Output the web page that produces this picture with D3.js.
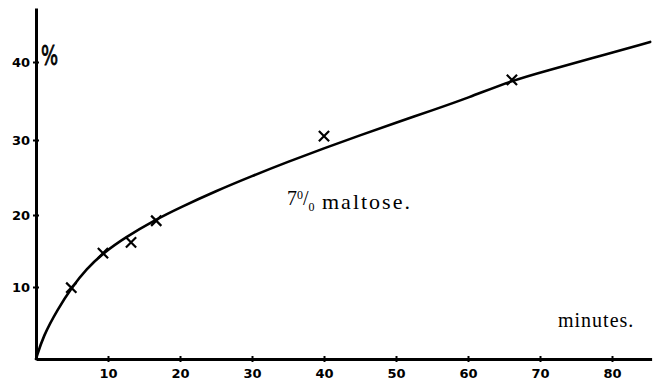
<!DOCTYPE html>
<html>
<head>
<meta charset="utf-8">
<script src="https://cdn.jsdelivr.net/npm/d3@7"></script>
<style>
  html, body { margin: 0; padding: 0; background: #fff; }
  svg { display: block; }
</style>
</head>
<body>
<svg id="chart" width="653" height="388"></svg>
<script>
// ---- data ----
const xTicks = [10, 20, 30, 40, 50, 60, 70, 80];
const yTicks = [10, 20, 30, 40];
// observed points (minutes, % maltose)
const obsMinutes = [4.9, 9.3, 13.2, 16.7, 40, 66.1];
const obsPercent = [9.9, 14.7, 16.2, 19.2, 30.5, 37.7];
// drawn smooth curve
const curveMinutes = [0, 1, 3, 5, 7, 9.3, 12.4, 16.5, 20, 25, 30, 35, 40, 45, 50, 55, 60, 66, 71, 76.5, 85.3];
const curvePercent = [0, 3.2, 6.9, 10, 12.5, 14.7, 16.9, 19.3, 21.0, 23.2, 25.2, 27.1, 28.9, 30.6, 32.2, 33.8, 35.4, 37.6, 38.9, 40.3, 42.6];
const yUnit = "%";
const xUnit = "minutes.";
const seriesLabel = { num: "7", sup: "0", sub: "0", text: "maltose." };

// ---- drawing ----
const svg = d3.select("#chart");
const x = d3.scaleLinear().domain([0, 85.5]).range([36, 651.6]);
// hand-drawn axis: slightly uneven spacing between the printed ticks
const y = d3.scaleLinear().domain([0, 10, 20, 30, 40, 47]).range([359, 287, 215, 140, 62, 8]);

const xAxis = d3.axisBottom(x).tickValues(xTicks).tickFormat(d3.format("d"))
  .tickSizeInner(3).tickSizeOuter(0).tickPadding(7);
const yAxis = d3.axisLeft(y).tickValues(yTicks).tickFormat(d3.format("d"))
  .tickSizeInner(3).tickSizeOuter(0).tickPadding(3);

const gx = svg.append("g").attr("transform", "translate(0,359)").call(xAxis);
const gy = svg.append("g").attr("transform", "translate(36,0)").call(yAxis);

[gx, gy].forEach(g => {
  g.select(".domain").attr("stroke", "#000").attr("stroke-width", 3);
  g.selectAll(".tick line").attr("stroke", "#000").attr("stroke-width", 2);
  g.selectAll(".tick text")
    .attr("fill", "#000")
    .style("font-family", "'DejaVu Sans', sans-serif")
    .style("font-weight", "bold")
    .style("font-size", "13px");
});
// ticks straddle the axis line
gx.selectAll(".tick line").attr("y1", -3).attr("y2", 3);
gy.selectAll(".tick line").attr("x1", -3).attr("x2", 3);

// curve
const curveData = curveMinutes.map((m, i) => [m, curvePercent[i]]);
svg.append("path")
  .datum(curveData)
  .attr("fill", "none")
  .attr("stroke", "#000")
  .attr("stroke-width", 2.6)
  .attr("stroke-linecap", "round")
  .attr("d", d3.line().x(d => x(d[0])).y(d => y(d[1])).curve(d3.curveBasis));

// observation crosses
const sym = d3.symbol().type(d3.symbolTimes).size(70);
svg.append("g").selectAll("path")
  .data(obsMinutes.map((m, i) => [m, obsPercent[i]]))
  .join("path")
  .attr("transform", d => `translate(${x(d[0])},${y(d[1])})`)
  .attr("d", sym)
  .attr("fill", "none")
  .attr("stroke", "#000")
  .attr("stroke-width", 2.2);

// unit labels
svg.append("text")
  .attr("transform", "translate(41,65) scale(0.9,1.3)")
  .style("font-family", "'DejaVu Sans', sans-serif")
  .style("font-size", "20px")
  .attr("fill", "#000")
  .attr("stroke", "#000")
  .attr("stroke-width", 0.6)
  .text(yUnit);

svg.append("text")
  .attr("x", 558).attr("y", 327)
  .style("font-family", "'Liberation Serif', serif")
  .style("font-size", "20px")
  .style("letter-spacing", "1px")
  .attr("fill", "#000")
  .text(xUnit);

// series label "7⁰/₀ maltose."
const lab = svg.append("text")
  .attr("x", 287).attr("y", 205)
  .style("font-family", "'Liberation Serif', serif")
  .attr("fill", "#000");
lab.append("tspan").style("font-size", "20px").text(seriesLabel.num);
lab.append("tspan").attr("dy", -6).style("font-size", "12px").text(seriesLabel.sup);
lab.append("tspan").attr("dy", 6).style("font-size", "20px").text("/");
lab.append("tspan").attr("dy", 6).style("font-size", "12px").text(seriesLabel.sub);
lab.append("tspan").attr("x", 322).attr("y", 209)
  .style("font-size", "22px").style("letter-spacing", "2px").text(seriesLabel.text);
</script>
</body>
</html>
